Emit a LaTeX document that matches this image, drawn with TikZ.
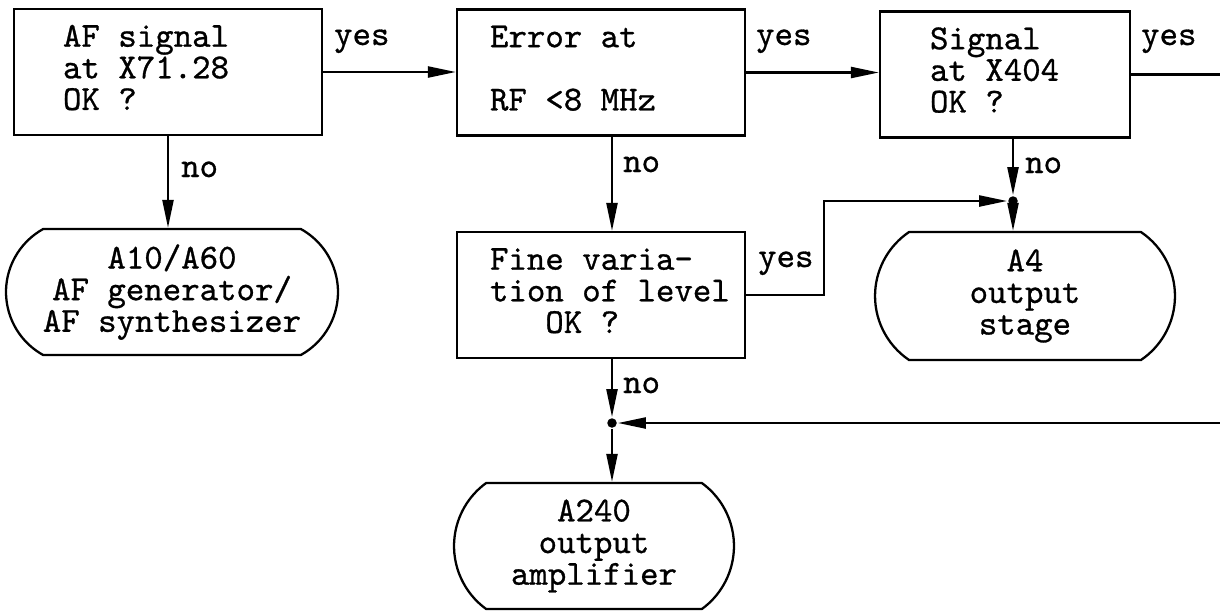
\documentclass[tikz,border=0pt]{standalone}
\usepackage{fontspec}
\newfontfamily\typewr{lmmono10-regular.otf}[FakeBold=0.8]
\usetikzlibrary{positioning,arrows.meta,shapes.misc,calc}

\begin{document}
\begin{tikzpicture}[x=0.02cm, y=-0.02cm, line width=1.3pt,
    font=\typewr\fontsize{20pt}{18pt}\selectfont,
    box/.style={draw, rectangle, inner sep=0pt, minimum height=2.52cm},
    term/.style={draw, rounded rectangle, align=center, inner sep=0pt, minimum height=2.52cm},
    flow/.style={-{Triangle[length=5.6mm, width=2.2mm]}},
    joint/.style={circle, fill, inner sep=0pt, minimum size=1.9mm},
    lbl/.style={anchor=base west, inner sep=0pt}]
  \useasboundingbox (0,0) rectangle (1220,610);
  % Abfragen
  \node[box] (sigaf) at (168,72) {\begin{tabular}{@{\hspace{0.98cm}}p{5.18cm}@{}}AF signal\\at X71.28\\OK ?\end{tabular}};
  \node[box] (errrf) at (601,72.5) {\begin{tabular}{@{\hspace{0.66cm}}p{5.1cm}@{}}Error at\\ \\RF <8 MHz\end{tabular}};
  \node[box] (sigx) at (1005,74.5) {\begin{tabular}{@{\hspace{1.0cm}}p{4.0cm}@{}}Signal\\at X404\\OK ?\end{tabular}};
  \node[box] (fine) at (601,295) {\begin{tabular}{@{\hspace{0.66cm}}p{5.1cm}@{}}Fine varia-\\tion of level\\\phantom{000}OK ?\end{tabular}};
  % Baugruppen
  \node[term, minimum width=6.64cm, rounded rectangle arc length=122] (gen) at (172,292) {A10/A60\\AF generator/\\AF synthesizer};
  \node[term, minimum width=6.0cm, minimum height=2.56cm, rounded rectangle arc length=112] (stage) at (1025,296) {A4\\output\\stage};
  \node[term, minimum width=5.6cm, rounded rectangle arc length=108] (amp) at (594,546) {A240\\output\\amplifier};
  % Verzweigungen
  \node[joint] (jstage) at (1013,201) {};
  \node[joint] (jamp) at (612,423) {};
  \coordinate (exitR) at (1222,73);
  \coordinate (entryR) at (1222,423);
  % Verbindungen
  \draw[flow] (sigaf.east) -- (sigaf.east -| errrf.west);
  \draw[flow] (errrf.east) -- (errrf.east -| sigx.west);
  \draw (sigx.east) -- (sigx.east -| exitR);
  \draw[flow] (sigaf.south) -- (sigaf.south |- gen.north);
  \draw[flow] (errrf.south -| jamp) -- (fine.north -| jamp);
  \draw[flow] (sigx.south -| jstage) -- (jstage);
  \draw[flow] (jstage) -- (stage.north -| jstage);
  \draw[flow] (fine.east) -- ++(78,0) |- (jstage);
  \draw[flow] (fine.south -| jamp) -- (jamp);
  \draw[flow] (entryR) -- (jamp);
  \draw[flow] (jamp) -- (amp.north -| jamp);
  % ja / nein
  \node[lbl] (yesa) at (333,45) {yes};
  \node[lbl] (yesb) at (755,45) {yes};
  \node[lbl] (yesc) at (1140,45) {yes};
  \node[lbl] (yesd) at (757,267) {yes};
  \node[lbl] (noa) at (180,177) {no};
  \node[lbl] (nob) at (622,172) {no};
  \node[lbl] (noc) at (1024,173) {no};
  \node[lbl] (nod) at (622,393) {no};
\end{tikzpicture}
\end{document}
